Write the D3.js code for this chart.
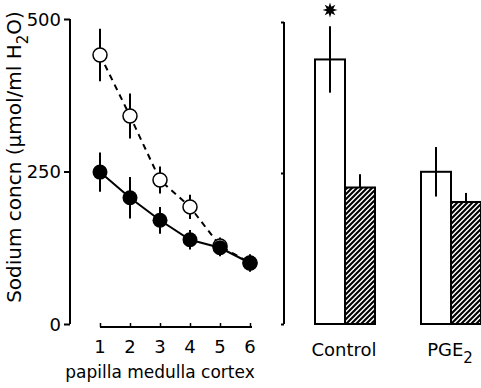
<!DOCTYPE html>
<html>
<head>
<meta charset="utf-8">
<script src="https://cdn.jsdelivr.net/npm/d3@7"></script>
<style>
  body { margin: 0; background: #fff; }
  text { font-family: "DejaVu Sans", sans-serif; fill: #000; }
</style>
</head>
<body>
<svg width="481" height="388"></svg>
<script>
// data
var sites = [1, 2, 3, 4, 5, 6];
var openMean = [441, 341, 236, 192, 128, 100];
var openErr  = [43, 37, 22, 20, 14, 14];
var filledMean = [249, 207, 170, 138, 125, 100];
var filledErr  = [32, 34, 22, 16, 14, 14];

var groups = ["Control", "PGE2"];
var barKinds = ["open", "hatched"];
var barMean = [[438, 226], [252, 202]];
var barErr  = [[55, 22], [41, 15]];

var yTicks = [0, 250, 500];

var svg = d3.select("svg");

// diagonal hatch "/"
var defs = svg.append("defs");
var pat = defs.append("pattern")
  .attr("id", "hatch")
  .attr("patternUnits", "userSpaceOnUse")
  .attr("width", 5).attr("height", 5);
pat.append("rect").attr("width", 5).attr("height", 5).attr("fill", "#fff");
pat.append("path").attr("d", "M-1,6L6,-1M-1,1L1,-1M4,6L6,4")
  .attr("stroke", "#000").attr("stroke-width", 2.1);

var y = d3.scaleLinear().domain([0, 500]).range([324, 19]);
var x = d3.scaleLinear().domain([1, 6]).range([100, 250]);

// left y axis
var yAxis = svg.append("g").attr("transform", "translate(70,0)")
  .call(d3.axisLeft(y).tickValues(yTicks).tickSize(6).tickPadding(3));
yAxis.select(".domain").attr("stroke-width", 2).attr("d", "M0,19V324");
yAxis.selectAll(".tick line").attr("stroke-width", 2);
yAxis.selectAll(".tick text").style("font-size", "18px").attr("dy", "0.36em");

// left x axis
var xAxis = svg.append("g").attr("transform", "translate(0,327)")
  .call(d3.axisTop(x).tickValues(sites).tickSize(4).tickFormat(""));
xAxis.select(".domain").attr("stroke-width", 2).attr("d", "M100,0H252");
xAxis.selectAll(".tick line").attr("stroke-width", 1.5);
svg.append("g").selectAll("text").data(sites).enter().append("text")
  .attr("x", function(d) { return x(d); })
  .attr("y", 353)
  .attr("text-anchor", "middle")
  .style("font-size", "18px")
  .text(function(d) { return d; });

svg.append("text").attr("x", 160).attr("y", 378)
  .attr("text-anchor", "middle").style("font-size", "17px")
  .text("papilla medulla cortex");

// y label
var yl = svg.append("text")
  .attr("transform", "translate(21,157) rotate(-90)")
  .attr("text-anchor", "middle").style("font-size", "20px");
yl.append("tspan").text("Sodium concn (μmol/ml H");
yl.append("tspan").attr("dy", 7).style("font-size", "15px").text("2");
yl.append("tspan").attr("dy", -7).text("O)");

// lines
var line = d3.line().x(function(d, i) { return x(sites[i]); }).y(function(d) { return y(d); });
svg.append("path").datum(openMean).attr("d", line)
  .attr("fill", "none").attr("stroke", "#000").attr("stroke-width", 2)
  .attr("stroke-dasharray", "6,5");
svg.append("path").datum(filledMean).attr("d", line)
  .attr("fill", "none").attr("stroke", "#000").attr("stroke-width", 2);

function errBars(mean, err) {
  svg.append("g").selectAll("line").data(mean).enter().append("line")
    .attr("x1", function(d, i) { return x(sites[i]); })
    .attr("x2", function(d, i) { return x(sites[i]); })
    .attr("y1", function(d, i) { return y(d + err[i]); })
    .attr("y2", function(d, i) { return y(d - err[i]); })
    .attr("stroke", "#000").attr("stroke-width", 2);
}
errBars(openMean, openErr);
errBars(filledMean, filledErr);

svg.append("g").selectAll("circle").data(openMean).enter().append("circle")
  .attr("cx", function(d, i) { return x(sites[i]); })
  .attr("cy", function(d) { return y(d); })
  .attr("r", 7).attr("fill", "#fff").attr("stroke", "#000").attr("stroke-width", 1.5);
svg.append("g").selectAll("circle").data(filledMean).enter().append("circle")
  .attr("cx", function(d, i) { return x(sites[i]); })
  .attr("cy", function(d) { return y(d); })
  .attr("r", 7.5).attr("fill", "#000");

// right panel
var ry = d3.scaleLinear().domain([0, 500]).range([324, 22]);
var rAxis = svg.append("g").attr("transform", "translate(284,0)")
  .call(d3.axisLeft(ry).tickValues(yTicks).tickSize(3).tickFormat(""));
rAxis.select(".domain").attr("stroke-width", 2).attr("d", "M0,22V324");
rAxis.selectAll(".tick line").attr("stroke-width", 2);

var gx = d3.scaleBand().domain(groups).range([315, 481]).paddingInner(0.434);
var sx = d3.scaleBand().domain(barKinds).range([0, gx.bandwidth()]);

var bars = [];
groups.forEach(function(g, gi) {
  barKinds.forEach(function(k, ki) {
    bars.push({ g: g, k: k, v: barMean[gi][ki], e: barErr[gi][ki] });
  });
});

var bg = svg.append("g");
bg.selectAll("rect").data(bars).enter().append("rect")
  .attr("x", function(d) { return gx(d.g) + sx(d.k); })
  .attr("y", function(d) { return ry(d.v); })
  .attr("width", sx.bandwidth())
  .attr("height", function(d) { return ry(0) - ry(d.v); })
  .attr("fill", function(d) { return d.k === "open" ? "none" : "url(#hatch)"; })
  .attr("stroke", "#000").attr("stroke-width", 2);
// error bars: full on open bars, upper half on hatched bars
bg.selectAll("line").data(bars).enter().append("line")
  .attr("x1", function(d) { return gx(d.g) + sx(d.k) + sx.bandwidth() / 2; })
  .attr("x2", function(d) { return gx(d.g) + sx(d.k) + sx.bandwidth() / 2; })
  .attr("y1", function(d) { return ry(d.v + d.e); })
  .attr("y2", function(d) { return d.k === "open" ? ry(d.v - d.e) : ry(d.v); })
  .attr("stroke", "#000").attr("stroke-width", 2);

// group labels
var gl = svg.append("g").selectAll("text").data(groups).enter().append("text")
  .attr("x", function(d) { return gx(d) + gx.bandwidth() / 2 - 1; })
  .attr("y", 356)
  .attr("text-anchor", "middle")
  .style("font-size", "18px");
gl.append("tspan").text(function(d) { return d === "PGE2" ? "PGE" : d; });
gl.filter(function(d) { return d === "PGE2"; })
  .append("tspan").attr("dy", 7).style("font-size", "15px").text("2");

// significance star above control open bar
var starX = gx("Control") + sx("open") + sx.bandwidth() / 2;
var starPts = d3.range(16).map(function(i) {
  var a = i * Math.PI / 8, r = i % 2 ? 3.5 : 7.5;
  return [starX + r * Math.sin(a), 10 - r * Math.cos(a)];
});
svg.append("path").attr("d", "M" + starPts.join("L") + "Z").attr("fill", "#000");
</script>
</body>
</html>
